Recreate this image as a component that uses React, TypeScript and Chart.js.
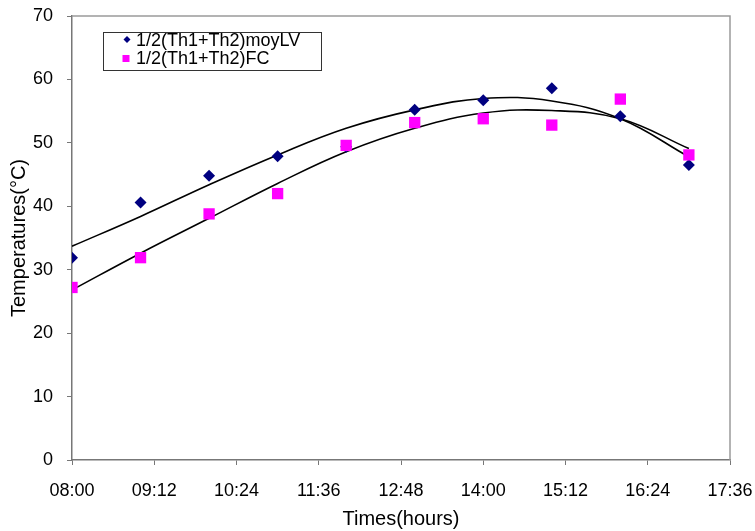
import React, { useEffect, useRef } from "react";
import { Chart, registerables } from "chart.js";

Chart.register(...registerables);

const timeLabels = ["08:00", "09:00", "10:00", "11:00", "12:00", "13:00", "14:00", "15:00", "16:00", "17:00"];
const moyLV = [31.9, 40.6, 44.8, 47.9, 49.4, 55.2, 56.7, 58.6, 54.2, 46.5];
const fc = [27.2, 31.9, 38.8, 42.0, 49.6, 53.2, 53.8, 52.8, 56.9, 48.1];
const trendLV = [33.7, 38.4, 43.4, 48.1, 52.3, 55.2, 57.0, 56.6, 53.8, 47.8];
const trendFC = [26.8, 32.6, 38.1, 43.6, 48.6, 52.3, 54.7, 55.1, 53.8, 49.1];
const seriesNames = ["1/2(Th1+Th2)moyLV", "1/2(Th1+Th2)FC"];
const xTickStart = "08:00";
const xTickEnd = "17:36";
const xTickStep = 72;
const yMin = 0;
const yMax = 70;
const yStep = 10;

const toMin = (s: string) => {
  const [h, m] = s.split(":").map(Number);
  return h * 60 + m;
};
const fmt = (v: number) => {
  const h = Math.floor(v / 60);
  const m = Math.round(v - h * 60);
  return String(h).padStart(2, "0") + ":" + String(m).padStart(2, "0");
};

const FONT = "'Liberation Sans', Arial, sans-serif";

export default function App() {
  const ref = useRef<HTMLCanvasElement | null>(null);
  useEffect(() => {
    document.body.style.margin = "0";
    const canvas = ref.current!;
    const pts = (vals: number[]) => timeLabels.map((t, i) => ({ x: toMin(t), y: vals[i] }));

    const borderPlugin = {
      id: "plotBorder",
      afterDatasetsDraw(chart: any) {
        const { ctx, chartArea: a } = chart;
        ctx.save();
        ctx.strokeStyle = "#9a9a9a";
        ctx.lineWidth = 1.5;
        ctx.beginPath();
        ctx.moveTo(a.left, a.top);
        ctx.lineTo(a.right, a.top);
        ctx.lineTo(a.right, a.bottom);
        ctx.stroke();
        ctx.restore();
      },
    };

    const legendPlugin = {
      id: "boxLegend",
      afterDraw(chart: any) {
        const ctx = chart.ctx;
        const x = 103, y = 32, w = 218, h = 38;
        ctx.save();
        ctx.fillStyle = "#fff";
        ctx.fillRect(x, y, w, h);
        ctx.strokeStyle = "#333";
        ctx.lineWidth = 1;
        ctx.strokeRect(x + 0.5, y + 0.5, w, h);
        ctx.fillStyle = "#000080";
        ctx.beginPath();
        ctx.moveTo(127, 36);
        ctx.lineTo(130.5, 39.5);
        ctx.lineTo(127, 43);
        ctx.lineTo(123.5, 39.5);
        ctx.closePath();
        ctx.fill();
        ctx.fillStyle = "#ff00ff";
        ctx.fillRect(122.5, 55, 7, 7);
        ctx.fillStyle = "#000";
        ctx.font = `18px ${FONT}`;
        ctx.textBaseline = "middle";
        ctx.textAlign = "left";
        ctx.fillText(seriesNames[0], 136, 41);
        ctx.fillText(seriesNames[1], 136, 59.5);
        ctx.restore();
      },
    };

    const zeroPad = (scale: any) => {
      scale.paddingLeft = 0;
      scale.paddingRight = 0;
      scale.paddingTop = 0;
      scale.paddingBottom = 0;
    };

    const chart = new Chart(canvas, {
      type: "scatter",
      data: {
        datasets: [
          {
            label: seriesNames[0],
            data: pts(moyLV),
            pointStyle: "rectRot",
            pointRadius: 6,
            pointHoverRadius: 6,
            backgroundColor: "#000080",
            borderColor: "#000080",
            borderWidth: 0,
            order: 1,
          },
          {
            label: seriesNames[1],
            data: pts(fc),
            pointStyle: "rect",
            pointRadius: 8,
            pointHoverRadius: 8,
            backgroundColor: "#ff00ff",
            borderColor: "#ff00ff",
            borderWidth: 0,
            order: 0,
          },
          {
            type: "line",
            label: "trendLV",
            data: pts(trendLV),
            borderColor: "#000",
            borderWidth: 1.6,
            pointRadius: 0,
            tension: 0.4,
            fill: false,
            order: 2,
          } as any,
          {
            type: "line",
            label: "trendFC",
            data: pts(trendFC),
            borderColor: "#000",
            borderWidth: 1.6,
            pointRadius: 0,
            tension: 0.4,
            fill: false,
            order: 2,
          } as any,
        ],
      },
      options: {
        responsive: false,
        animation: false,
        devicePixelRatio: 1,
        layout: { padding: { left: 0, top: 16, right: 25, bottom: 0 } },
        plugins: { legend: { display: false }, tooltip: { enabled: false } },
        scales: {
          x: {
            type: "linear",
            min: toMin(xTickStart),
            max: toMin(xTickEnd),
            afterBuildTicks(scale: any) {
              const t = [];
              for (let v = toMin(xTickStart); v <= toMin(xTickEnd); v += xTickStep) t.push({ value: v });
              scale.ticks = t;
            },
            afterFit(scale: any) {
              scale.height = 71;
              zeroPad(scale);
            },
            ticks: {
              callback: (v: any) => fmt(Number(v)),
              color: "#000",
              font: { family: FONT, size: 18 },
              padding: 15,
              maxRotation: 0,
              autoSkip: false,
            },
            grid: { drawOnChartArea: false, drawTicks: true, tickLength: 5, color: "#777" },
            border: { color: "#777", width: 1.5 },
            title: {
              display: true,
              text: "Times(hours)",
              color: "#000",
              font: { family: FONT, size: 20 },
              padding: { top: 0, bottom: 0 },
            },
          },
          y: {
            min: yMin,
            max: yMax,
            ticks: {
              stepSize: yStep,
              color: "#000",
              font: { family: FONT, size: 18 },
              padding: 14,
            },
            afterFit(scale: any) {
              scale.width = 72;
              zeroPad(scale);
            },
            grid: { drawOnChartArea: false, drawTicks: true, tickLength: 5, color: "#777" },
            border: { color: "#777", width: 1.5 },
            title: {
              display: true,
              text: "Temperatures(°C)",
              color: "#000",
              font: { family: FONT, size: 20 },
              padding: { top: 7, bottom: 0 },
            },
          },
        },
      },
      plugins: [borderPlugin, legendPlugin],
    } as any);
    return () => chart.destroy();
  }, []);
  return (
    <div style={{ width: 755, height: 531, background: "#fff" }}>
      <canvas ref={ref} width={755} height={531} style={{ display: "block" }} />
    </div>
  );
}
